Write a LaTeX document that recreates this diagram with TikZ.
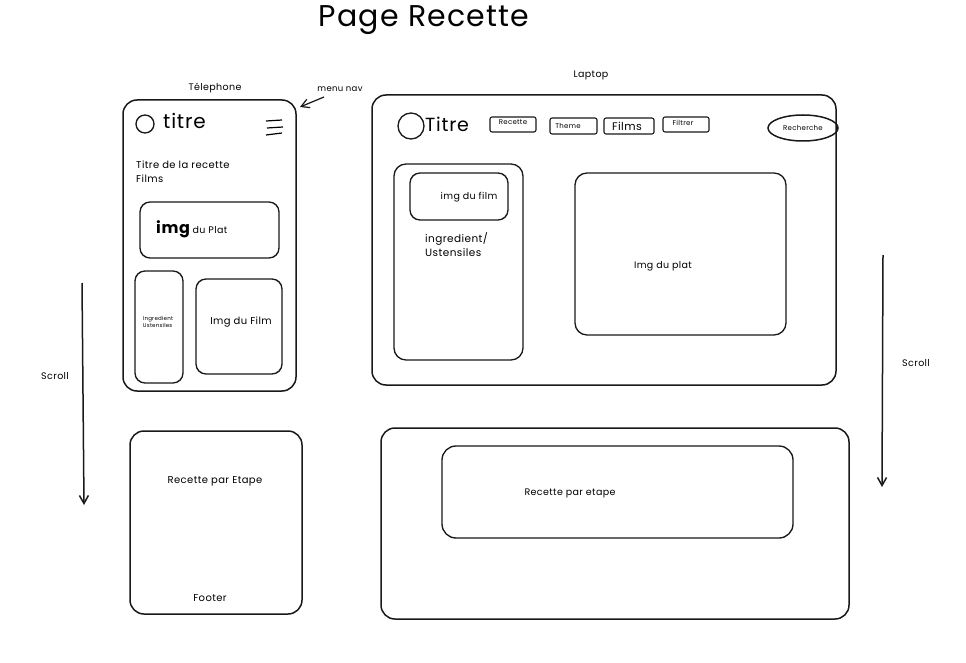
\documentclass[tikz,border=0pt]{standalone}
\usepackage{fontspec}
\setmainfont{Poppins}[LetterSpace=4]
\usetikzlibrary{arrows.meta,shapes.geometric}
\begin{document}
\begin{tikzpicture}[x=1pt,y=-1pt,
  frame/.style={draw=black!90,line width=1.5pt,rounded corners=14pt},
  box/.style={draw=black!90,line width=1.35pt,rounded corners=10pt},
  btn/.style={draw=black!90,line width=1.1pt,rounded corners=2pt},
  lbl/.style={font=\fontsize{9.5}{11}\selectfont,inner sep=0pt},
  tiny/.style={font=\fontsize{7}{8}\selectfont,inner sep=0pt,align=left},
  arr/.style={draw=black!90,line width=1.5pt,-{Straight Barb[length=8pt,width=9pt]}}]
\useasboundingbox (0,0) rectangle (966,663);

% title
\node[font=\fontsize{30}{34}\selectfont,inner sep=0pt] (title) at (424,20) {Page Recette};

% ---------- phone ----------
\node[lbl] (tel) at (215,88) {Télephone};
\node[lbl,font=\fontsize{8.5}{10}\selectfont] (menunav) at (340,89) {menu nav};
\coordinate (navtail) at (324,97);
\coordinate (navtip) at (300,107);
\draw[arr,line width=1.2pt] (navtail) -- (navtip);

\draw[frame] (123,100) rectangle (296,391);
\node[draw=black!90,line width=1.35pt,circle,minimum size=18pt,inner sep=0pt] (plogo) at (145,124) {};
\node[font=\fontsize{20}{22}\selectfont,inner sep=0pt,anchor=west] (ptitre) at (163,121) {titre};
\draw[line width=1.2pt] (266,121) -- (282,120) (267,128) -- (283,127) (266,135) -- (282,133);
\node[lbl,anchor=north west,align=left,font=\fontsize{10}{14}\selectfont] (ptr) at (136,161) {Titre de la recette\\Films};
\draw[box] (140,202) rectangle (279,258);
\node[inner sep=0pt,anchor=west] (pimg) at (156,229) {\fontsize{16}{17}\selectfont\bfseries img\,\fontsize{9.5}{10}\mdseries\selectfont du Plat};
\draw[box] (135,271) rectangle (183,383);
\node[tiny,font=\fontsize{5.5}{7.5}\selectfont] (ping) at (158,322) {Ingredient\\Ustensiles};
\draw[box] (196,279) rectangle (282,374);
\node[lbl,font=\fontsize{10}{12}\selectfont] (pfilm) at (241,322) {Img du Film};

\node[lbl] (scrl) at (55,376) {Scroll};
\coordinate (sl1) at (82,283);
\coordinate (sl2) at (84,505);
\draw[arr] (sl1) -- (sl2);

\draw[frame] (130,431) rectangle (302,614);
\node[lbl,font=\fontsize{10}{12}\selectfont] (petape) at (215,481) {Recette par Etape};
\node[lbl,font=\fontsize{10}{12}\selectfont] (pfoot) at (210,598) {Footer};

% ---------- laptop ----------
\node[lbl] (lap) at (591,75) {Laptop};
\draw[frame] (372,95) rectangle (836,385);
\node[draw=black!90,line width=1.35pt,circle,minimum size=26pt,inner sep=0pt] (llogo) at (411,126) {};
\node[font=\fontsize{19}{21}\selectfont,inner sep=0pt,anchor=west] (ltitre) at (425,124) {Titre};
\draw[btn] (490,117) rectangle (536,132);
\node[tiny] (b1) at (513,122) {Recette};
\draw[btn] (550,118) rectangle (597,134);
\node[tiny] (b2) at (568,126) {Theme};
\draw[btn] (604,118) rectangle (654,134);
\node[lbl,font=\fontsize{11}{12}\selectfont] (b3) at (627,126) {Films};
\draw[btn] (663,117) rectangle (709,132);
\node[tiny] (b4) at (683,123) {Filtrer};
\node[draw=black!90,line width=1.5pt,ellipse,minimum width=70pt,minimum height=26pt,inner sep=0pt,tiny] (rech) at (803,128) {Recherche};

\draw[box,rounded corners=12pt] (394,164) rectangle (523,360);
\draw[box] (410,173) rectangle (508,220);
\node[lbl] (lfilm) at (469,197) {img du film};
\node[lbl,anchor=north west,align=left,font=\fontsize{10.5}{14}\selectfont] (ling) at (425,232) {ingredient/\\Ustensiles};
\draw[box,rounded corners=12pt] (575,173) rectangle (786,335);
\node[lbl] (lplat) at (663,266) {Img du plat};

\node[lbl] (scrr) at (916,363) {Scroll};
\coordinate (sr1) at (883,255);
\coordinate (sr2) at (882,487);
\draw[arr] (sr1) -- (sr2);

\draw[frame] (381,428) rectangle (849,619);
\draw[box,rounded corners=14pt] (442,446) rectangle (793,538);
\node[lbl] (letape) at (570,493) {Recette par etape};
\end{tikzpicture}
\end{document}
